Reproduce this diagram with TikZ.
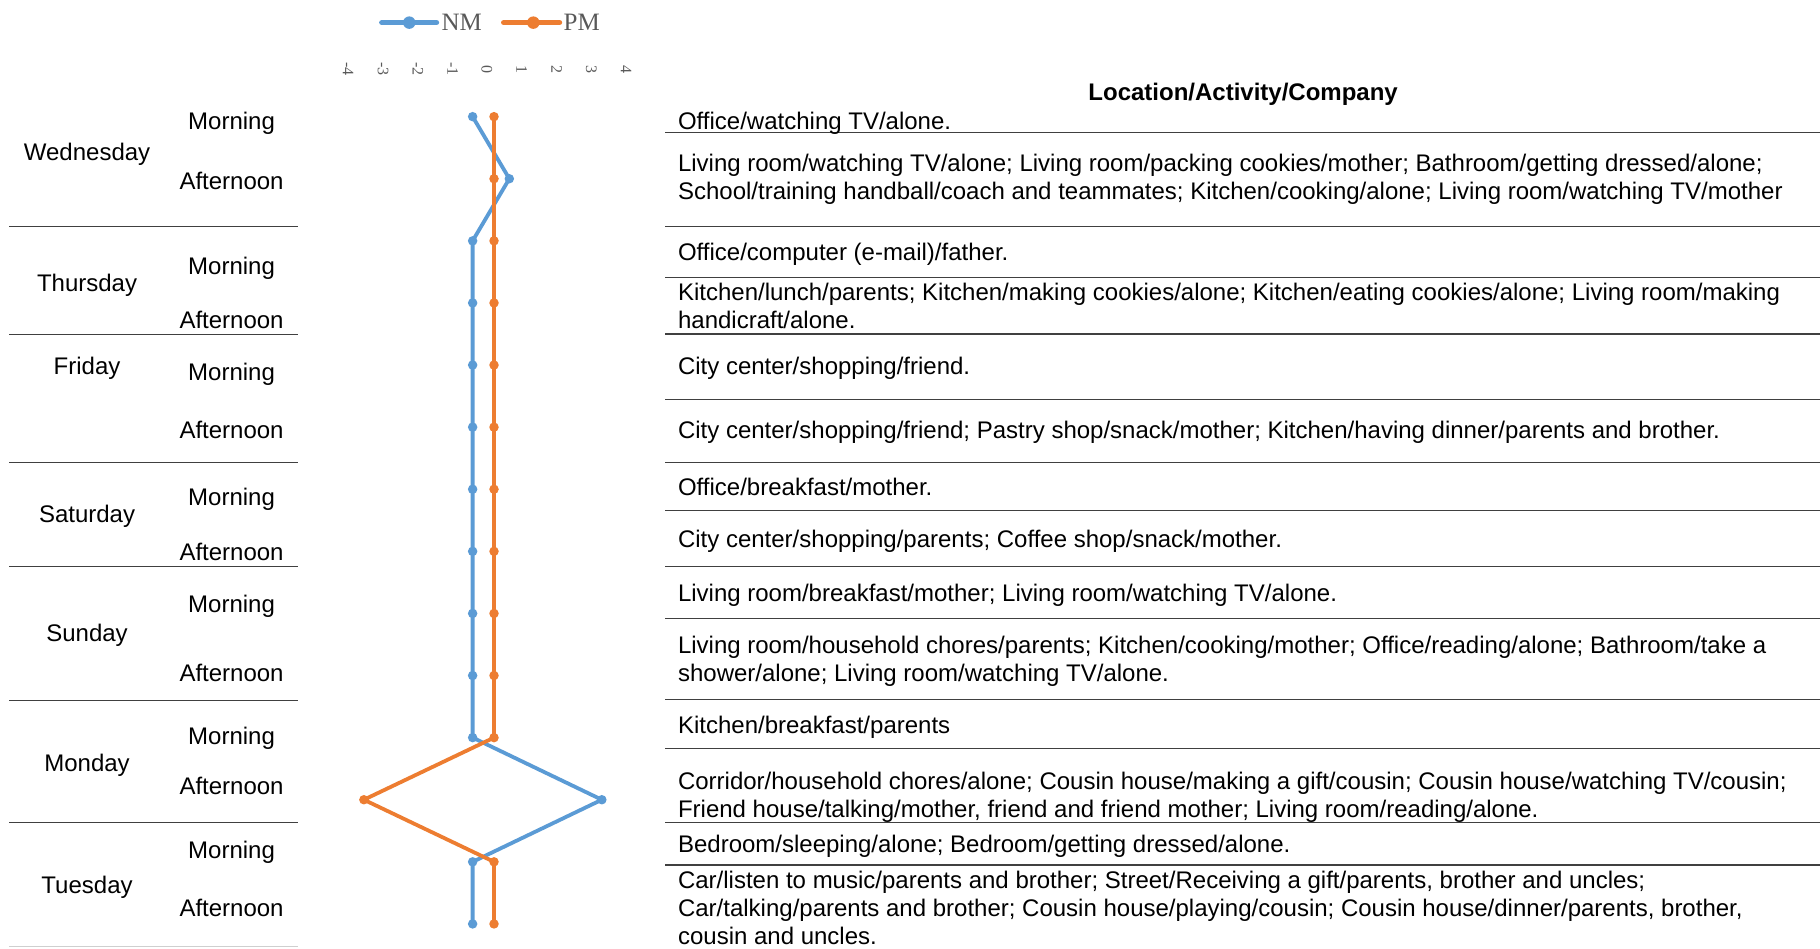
\documentclass[tikz,border=0pt]{standalone}
\usepackage{fontspec}
\setmainfont{Liberation Sans}
\newfontfamily\legendfont{Liberation Serif}
\usetikzlibrary{positioning}

\definecolor{nmblue}{RGB}{91,155,213}
\definecolor{pmorange}{RGB}{237,125,49}
\definecolor{rulegray}{RGB}{64,64,64}
\definecolor{leggray}{RGB}{89,89,89}

\tikzset{
  seriesline/.style={line width=3.8pt, line join=round, line cap=round},
  nmline/.style={seriesline, draw=nmblue},
  pmline/.style={seriesline, draw=pmorange},
  nmdot/.style={circle, fill=nmblue, inner sep=0pt, minimum size=9.5pt},
  pmdot/.style={circle, fill=pmorange, inner sep=0pt, minimum size=9.5pt},
  keyline/.style={line width=5.5pt, line cap=round},
  keydot/.style={circle, inner sep=0pt, minimum size=12.5pt},
  tablerule/.style={draw=rulegray, line width=1.4pt},
  daytext/.style={font=\fontsize{24}{28}\selectfont, text=black, anchor=base, inner sep=0pt},
  celltext/.style={font=\fontsize{24}{28}\selectfont, text=black, anchor=base west, align=left, inner sep=0pt},
  headtext/.style={font=\bfseries\fontsize{24}{28}\selectfont, text=black, anchor=base, inner sep=0pt},
  ticktext/.style={font=\legendfont\fontsize{16}{18}\selectfont, text=leggray, rotate=-90, anchor=center, inner sep=0pt},
  legtext/.style={font=\legendfont\fontsize{25}{28}\selectfont, text=leggray, anchor=west, inner sep=0pt},
}

\begin{document}
\begin{tikzpicture}[x=1.1607pt, y=-1.1607pt]
\useasboundingbox (0,0) rectangle (1568,817);

\coordinate (nmkeyL) at (329,19.5);
\coordinate (nmkeyR) at (376,19.5);
\draw[keyline, draw=nmblue] (nmkeyL) -- (nmkeyR);
\node[keydot, fill=nmblue] (nmkey) at (352.6,19.5) {};
\node[legtext, right=5pt of nmkeyR] (nmleg) {NM};
\coordinate (pmkeyL) at (434,19.5);
\coordinate (pmkeyR) at (482,19.5);
\draw[keyline, draw=pmorange] (pmkeyL) -- (pmkeyR);
\node[keydot, fill=pmorange] (pmkey) at (459.5,19.5) {};
\node[legtext, right=4pt of pmkeyR] (pmleg) {PM};

\node[ticktext] (tickm4) at (300,59.5) {-4};
\node[ticktext] (tickm3) at (330,59.5) {-3};
\node[ticktext] (tickm2) at (360,59.5) {-2};
\node[ticktext] (tickm1) at (390,59.5) {-1};
\node[ticktext] (tick0) at (419.5,59.5) {0};
\node[ticktext] (tick1) at (449.5,59.5) {1};
\node[ticktext] (tick2) at (479.5,59.5) {2};
\node[ticktext] (tick3) at (509.5,59.5) {3};
\node[ticktext] (tick4) at (539.5,59.5) {4};

\draw[tablerule] (8,195.3) -- (257,195.3);
\draw[tablerule] (8,288) -- (257,288);
\draw[tablerule] (8,398.3) -- (257,398.3);
\draw[tablerule] (8,488.2) -- (257,488.2);
\draw[tablerule] (8,603.3) -- (257,603.3);
\draw[tablerule] (8,708.5) -- (257,708.5);
\draw[tablerule, draw=rulegray!25] (8,815.5) -- (257,815.5);

\node[daytext] (wed) at (75,138.4) {Wednesday};
\node[daytext] (thu) at (75,251.3) {Thursday};
\node[daytext] (fri) at (75,323) {Friday};
\node[daytext] (sat) at (75,450.3) {Saturday};
\node[daytext] (sun) at (75,552.8) {Sunday};
\node[daytext] (mon) at (75,664.3) {Monday};
\node[daytext] (tue) at (75,770.2) {Tuesday};

\node[daytext] (wedam) at (199.5,112) {Morning};
\node[daytext] (wedpm) at (199.5,163) {Afternoon};
\node[daytext] (thuam) at (199.5,236.4) {Morning};
\node[daytext] (thupm) at (199.5,283) {Afternoon};
\node[daytext] (friam) at (199.5,327.4) {Morning};
\node[daytext] (fripm) at (199.5,377.6) {Afternoon};
\node[daytext] (satam) at (199.5,435.7) {Morning};
\node[daytext] (satpm) at (199.5,483.3) {Afternoon};
\node[daytext] (sunam) at (199.5,527.8) {Morning};
\node[daytext] (sunpm) at (199.5,587.3) {Afternoon};
\node[daytext] (monam) at (199.5,641) {Morning};
\node[daytext] (monpm) at (199.5,684.3) {Afternoon};
\node[daytext] (tueam) at (199.5,739.5) {Morning};
\node[daytext] (tuepm) at (199.5,789.8) {Afternoon};

\node[nmdot] (nm1) at (407.2,100.5) {};
\node[nmdot] (nm2) at (438.8,154) {};
\node[nmdot] (nm3) at (407.2,207.5) {};
\node[nmdot] (nm4) at (407.2,261) {};
\node[nmdot] (nm5) at (407.2,314.5) {};
\node[nmdot] (nm6) at (407.2,368) {};
\node[nmdot] (nm7) at (407.2,421.5) {};
\node[nmdot] (nm8) at (407.2,475) {};
\node[nmdot] (nm9) at (407.2,528.5) {};
\node[nmdot] (nm10) at (407.2,582) {};
\node[nmdot] (nm11) at (407.2,635.5) {};
\node[nmdot] (nm12) at (518.5,689) {};
\node[nmdot] (nm13) at (407.2,742.5) {};
\node[nmdot] (nm14) at (407.2,796) {};
\draw[nmline] (nm1.center) -- (nm2.center) -- (nm3.center) -- (nm4.center) -- (nm5.center) -- (nm6.center) -- (nm7.center)
  -- (nm8.center) -- (nm9.center) -- (nm10.center) -- (nm11.center) -- (nm12.center) -- (nm13.center) -- (nm14.center);

\node[pmdot] (pm1) at (425.6,100.5) {};
\node[pmdot] (pm2) at (425.6,154) {};
\node[pmdot] (pm3) at (425.6,207.5) {};
\node[pmdot] (pm4) at (425.6,261) {};
\node[pmdot] (pm5) at (425.6,314.5) {};
\node[pmdot] (pm6) at (425.6,368) {};
\node[pmdot] (pm7) at (425.6,421.5) {};
\node[pmdot] (pm8) at (425.6,475) {};
\node[pmdot] (pm9) at (425.6,528.5) {};
\node[pmdot] (pm10) at (425.6,582) {};
\node[pmdot] (pm11) at (425.6,635.5) {};
\node[pmdot] (pm12) at (313.5,689) {};
\node[pmdot] (pm13) at (425.6,742.5) {};
\node[pmdot] (pm14) at (425.6,796) {};
\draw[pmline] (pm1.center) -- (pm2.center) -- (pm3.center) -- (pm4.center) -- (pm5.center) -- (pm6.center) -- (pm7.center)
  -- (pm8.center) -- (pm9.center) -- (pm10.center) -- (pm11.center) -- (pm12.center) -- (pm13.center) -- (pm14.center);

\node[headtext] (head) at (1071,86.7) {Location/Activity/Company};

\draw[tablerule] (573,114.3) -- (1568,114.3);
\draw[tablerule] (573,195.3) -- (1568,195.3);
\draw[tablerule] (573,238.9) -- (1568,238.9);
\draw[tablerule] (573,287.7) -- (1568,287.7);
\draw[tablerule] (573,344) -- (1568,344);
\draw[tablerule] (573,398.3) -- (1568,398.3);
\draw[tablerule] (573,440) -- (1568,440);
\draw[tablerule] (573,488.2) -- (1568,488.2);
\draw[tablerule] (573,532.7) -- (1568,532.7);
\draw[tablerule] (573,602.8) -- (1568,602.8);
\draw[tablerule] (573,644.7) -- (1568,644.7);
\draw[tablerule] (573,708.5) -- (1568,708.5);
\draw[tablerule] (573,745.2) -- (1568,745.2);

% multi-line cells: base anchor sits on the last line
\node[celltext] (wedamtxt) at (584,111.4) {Office/watching TV/alone.};
\node[celltext] (wedpmtxt) at (584,172.3) {Living room/watching TV/alone; Living room/packing cookies/mother; Bathroom/getting dressed/alone;\\School/training handball/coach and teammates; Kitchen/cooking/alone; Living room/watching TV/mother};
\node[celltext] (thuamtxt) at (584,224.6) {Office/computer (e-mail)/father.};
\node[celltext] (thupmtxt) at (584,282.9) {Kitchen/lunch/parents; Kitchen/making cookies/alone; Kitchen/eating cookies/alone; Living room/making\\handicraft/alone.};
\node[celltext] (friamtxt) at (584,322.6) {City center/shopping/friend.};
\node[celltext] (fripmtxt) at (584,378.2) {City center/shopping/friend; Pastry shop/snack/mother; Kitchen/having dinner/parents and brother.};
\node[celltext] (satamtxt) at (584,426.5) {Office/breakfast/mother.};
\node[celltext] (satpmtxt) at (584,472) {City center/shopping/parents; Coffee shop/snack/mother.};
\node[celltext] (sunamtxt) at (584,518) {Living room/breakfast/mother; Living room/watching TV/alone.};
\node[celltext] (sunpmtxt) at (584,587.3) {Living room/household chores/parents; Kitchen/cooking/mother; Office/reading/alone; Bathroom/take a\\shower/alone; Living room/watching TV/alone.};
\node[celltext] (monamtxt) at (584,632.2) {Kitchen/breakfast/parents};
\node[celltext] (monpmtxt) at (584,704.3) {Corridor/household chores/alone; Cousin house/making a gift/cousin; Cousin house/watching TV/cousin;\\Friend house/talking/mother, friend and friend mother; Living room/reading/alone.};
\node[celltext] (tueamtxt) at (584,734.5) {Bedroom/sleeping/alone; Bedroom/getting dressed/alone.};
\node[celltext] (tuepmtxt) at (584,813.7) {Car/listen to music/parents and brother; Street/Receiving a gift/parents, brother and uncles;\\Car/talking/parents and brother; Cousin house/playing/cousin; Cousin house/dinner/parents, brother,\\cousin and uncles.};

\end{tikzpicture}
\end{document}
